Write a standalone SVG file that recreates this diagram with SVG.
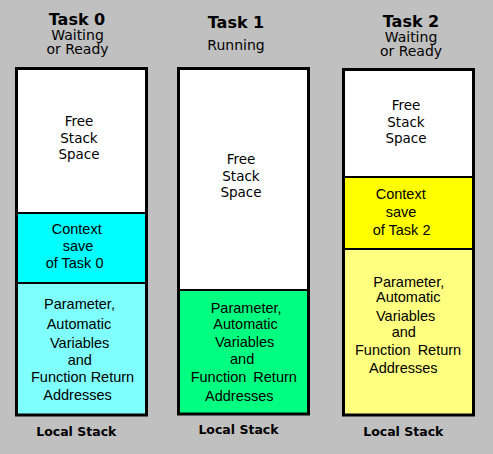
<svg xmlns="http://www.w3.org/2000/svg" width="493" height="454" viewBox="0 0 493 454">
<style>
.title{font-family:"DejaVu Sans",Verdana,sans-serif;font-weight:bold;font-size:16px;fill:#000;text-anchor:middle}
.state{font-family:"DejaVu Sans",Verdana,sans-serif;font-size:14px;fill:#000;text-anchor:middle}
.free{font-family:"DejaVu Sans",Verdana,sans-serif;font-size:13.5px;fill:#000;text-anchor:middle}
.body{font-family:"Liberation Sans",Arial,sans-serif;font-size:14.5px;fill:#000}
.foot{font-family:"DejaVu Sans",Verdana,sans-serif;font-weight:bold;font-size:12.5px;fill:#000;text-anchor:middle}
.outline{fill:none;stroke:#000;stroke-width:3}
.div{stroke:#000;stroke-width:2}
</style>
<rect x="0" y="0" width="493" height="454" fill="#C0C0C0"/>

<g id="task0">
<text class="title" x="77" y="25">Task 0</text>
<text class="state" x="77.5" y="40">Waiting</text>
<text class="state" x="77.5" y="54">or Ready</text>
<rect x="16.5" y="68.5" width="130" height="144.5" fill="#FFFFFF"/>
<rect x="16.5" y="213" width="130" height="70" fill="#00FFFF"/>
<rect x="16.5" y="283" width="130" height="132" fill="#80FFFF"/>
<line class="div" x1="16.5" y1="213" x2="146.5" y2="213"/>
<line class="div" x1="16.5" y1="283" x2="146.5" y2="283"/>
<rect class="outline" x="16.5" y="68.5" width="130" height="346.5"/>
<text class="free" x="79" y="126">Free</text>
<text class="free" x="79" y="143">Stack</text>
<text class="free" x="79" y="159">Space</text>
<text class="body" x="51.7" y="234">Context</text>
<text class="body" x="62.7" y="251">save</text>
<text class="body" x="45.7" y="268">of Task 0</text>
<text class="body" x="44" y="309">Parameter,</text>
<text class="body" x="46.7" y="329">Automatic</text>
<text class="body" x="50" y="348">Variables</text>
<text class="body" x="67.7" y="365">and</text>
<text class="body" x="31" y="382">Function Return</text>
<text class="body" x="43.3" y="400">Addresses</text>
<text class="foot" x="76.3" y="436">Local Stack</text>
</g>

<g id="task1">
<text class="title" x="236" y="28">Task 1</text>
<text class="state" x="236" y="50">Running</text>
<rect x="178.5" y="68.5" width="130" height="221.5" fill="#FFFFFF"/>
<rect x="178.5" y="290" width="130" height="124" fill="#00FF80"/>
<line class="div" x1="178.5" y1="290" x2="308.5" y2="290"/>
<rect class="outline" x="178.5" y="68.5" width="130" height="345.5"/>
<text class="free" x="241" y="164">Free</text>
<text class="free" x="241" y="181">Stack</text>
<text class="free" x="241" y="197">Space</text>
<text class="body" x="210.7" y="312.7">Parameter,</text>
<text class="body" x="213.3" y="329.3">Automatic</text>
<text class="body" x="215" y="346.7">Variables</text>
<text class="body" x="230" y="364">and</text>
<text class="body" x="190.7" y="381.7" word-spacing="3">Function Return</text>
<text class="body" x="205" y="400.7">Addresses</text>
<text class="foot" x="238.5" y="434">Local Stack</text>
</g>

<g id="task2">
<text class="title" x="411" y="27">Task 2</text>
<text class="state" x="411" y="42">Waiting</text>
<text class="state" x="411" y="56">or Ready</text>
<rect x="343.5" y="69.5" width="130" height="107.5" fill="#FFFFFF"/>
<rect x="343.5" y="177" width="130" height="72" fill="#FFFF00"/>
<rect x="343.5" y="249" width="130" height="166" fill="#FFFF80"/>
<line class="div" x1="343.5" y1="177" x2="473.5" y2="177"/>
<line class="div" x1="343.5" y1="249" x2="473.5" y2="249"/>
<rect class="outline" x="343.5" y="69.5" width="130" height="345.5"/>
<text class="free" x="406" y="110">Free</text>
<text class="free" x="406" y="127">Stack</text>
<text class="free" x="406" y="143">Space</text>
<text class="body" x="375.7" y="199.3">Context</text>
<text class="body" x="385.7" y="216.7">save</text>
<text class="body" x="372.7" y="235">of Task 2</text>
<text class="body" x="373.3" y="286.7">Parameter,</text>
<text class="body" x="376" y="302.3">Automatic</text>
<text class="body" x="376" y="321">Variables</text>
<text class="body" x="391.7" y="336.7">and</text>
<text class="body" x="355" y="355" word-spacing="3">Function Return</text>
<text class="body" x="369" y="373.3">Addresses</text>
<text class="foot" x="403.3" y="435.7">Local Stack</text>
</g>

<g id="connectors"></g>
</svg>
